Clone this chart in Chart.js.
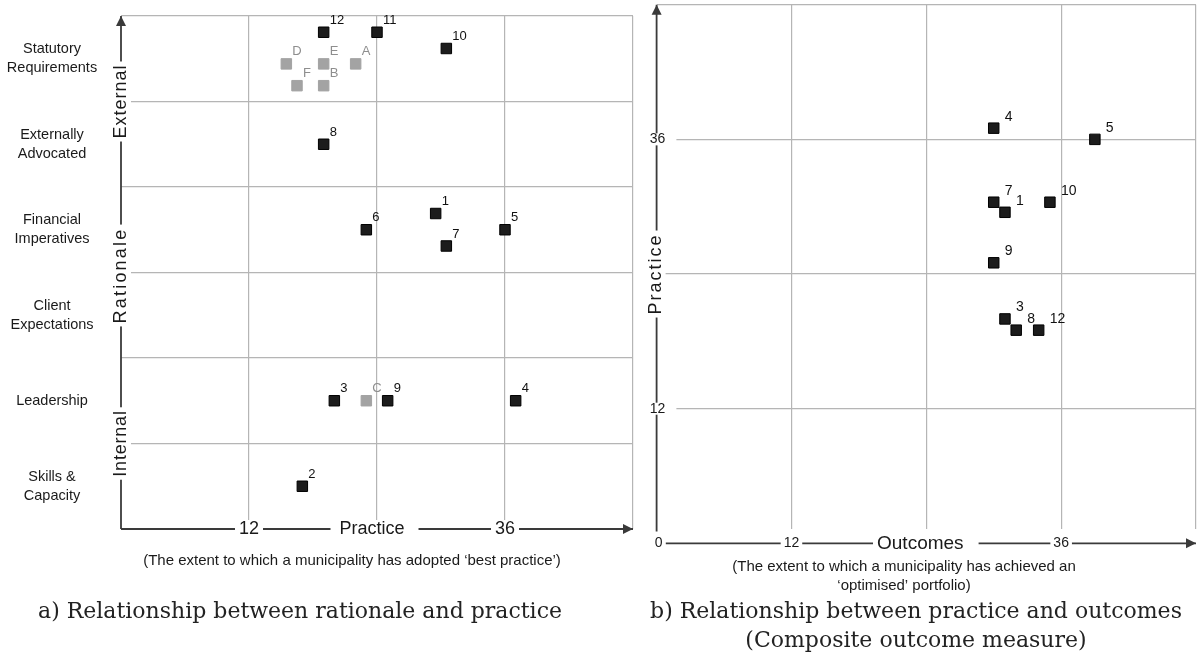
<!DOCTYPE html>
<html>
<head>
<meta charset="utf-8">
<title>Rationale, practice and outcomes</title>
<script src="https://cdn.jsdelivr.net/npm/chart.js@4.4.0/dist/chart.umd.min.js"></script>
<style>
    html, body { margin: 0; padding: 0; background: #fff; }
    #wrap { position: relative; width: 1200px; height: 656px; overflow: hidden; }
    #leftChart { position: absolute; left: 0; top: 0; }
    #rightChart { position: absolute; left: 645px; top: 0; }
</style>
</head>
<body>
<div id="wrap">
    <canvas id="leftChart" width="645" height="656"></canvas>
    <canvas id="rightChart" width="555" height="656"></canvas>
</div>
<script>
// ---- data: a) rationale vs practice ----
// rationale bands, from the bottom band (0-1) to the top band (5-6)
const rationaleCategories = [
    ['Skills &', 'Capacity'],
    ['Leadership'],
    ['Client', 'Expectations'],
    ['Financial', 'Imperatives'],
    ['Externally', 'Advocated'],
    ['Statutory', 'Requirements'],
];
const municipalityIds = ['1', '2', '3', '4', '5', '6', '7', '8', '9', '10', '11', '12'];
const municipalityPractice = [29.5, 17, 20, 37, 36, 23, 30.5, 19, 25, 30.5, 24, 19];
const municipalityRationale = [3.69, 0.5, 1.5, 1.5, 3.5, 3.5, 3.31, 4.5, 1.5, 5.62, 5.81, 5.81];
const caseIds = ['A', 'B', 'C', 'D', 'E', 'F'];
const casePractice = [22, 19, 23, 15.5, 19, 16.5];
const caseRationale = [5.44, 5.185, 1.5, 5.44, 5.44, 5.185];
const practiceTicks = [12, 36];

// ---- data: b) practice vs outcomes ----
const outcomeIds = ['1', '3', '4', '5', '7', '8', '9', '10', '12'];
const outcomeValues = [31, 31, 30, 39, 30, 32, 30, 35, 34];
const outcomePractice = [29.5, 20, 37, 36, 30.4, 19, 25, 30.4, 19];
const outcomeTicks = [0, 12, 36];
const outcomePracticeTicks = [12, 36];

const SANS = '"Liberation Sans", Arial, sans-serif';
const SERIF = '"DejaVu Serif", serif';
const AXIS_COLOR = '#3a3a3a';
const GRID_COLOR = '#b5b5b5';

// text with a white box behind it, so it breaks the axis line
function boxedText(ctx, text, x, y, size, padL, padR, padV, spacing) {
    ctx.font = size + 'px ' + SANS;
    ctx.letterSpacing = (spacing || 0) + 'px';
    const w = ctx.measureText(text).width;
    ctx.fillStyle = '#fff';
    ctx.fillRect(x - w / 2 - padL, y - size / 2 - padV, w + padL + padR, size + padV * 2);
    ctx.fillStyle = '#1a1a1a';
    ctx.textAlign = 'center';
    ctx.textBaseline = 'middle';
    ctx.fillText(text, x, y);
    ctx.letterSpacing = '0px';
}

function rotatedText(ctx, text, x, y, size, spacing) {
    ctx.save();
    ctx.translate(x, y);
    ctx.rotate(-Math.PI / 2);
    boxedText(ctx, text, 0, 0, size, 3, 3, 1, spacing);
    ctx.restore();
}

function arrowLine(ctx, x1, y1, x2, y2) {
    ctx.strokeStyle = AXIS_COLOR;
    ctx.fillStyle = AXIS_COLOR;
    ctx.lineWidth = 1.8;
    ctx.beginPath();
    ctx.moveTo(x1, y1);
    ctx.lineTo(x2, y2);
    ctx.stroke();
    // arrow head at (x2, y2)
    const a = Math.atan2(y2 - y1, x2 - x1);
    ctx.save();
    ctx.translate(x2, y2);
    ctx.rotate(a);
    ctx.beginPath();
    ctx.moveTo(0, 0);
    ctx.lineTo(-10, -5);
    ctx.lineTo(-10, 5);
    ctx.closePath();
    ctx.fill();
    ctx.restore();
}

function centerLines(ctx, lines, x, y, lineHeight, font, color) {
    ctx.font = font;
    ctx.fillStyle = color;
    ctx.textAlign = 'center';
    ctx.textBaseline = 'middle';
    lines.forEach((line, i) => ctx.fillText(line, x, y + i * lineHeight));
}

// point labels next to each marker
const pointLabels = {
    id: 'pointLabels',
    afterDatasetsDraw(chart, args, opts) {
        const ctx = chart.ctx;
        ctx.save();
        chart.data.datasets.forEach((ds, i) => {
            const meta = chart.getDatasetMeta(i);
            ctx.font = opts.size + 'px ' + SANS;
            ctx.fillStyle = ds.labelColor;
            ctx.textAlign = 'left';
            ctx.textBaseline = 'middle';
            meta.data.forEach((pt, j) => {
                ctx.fillText(ds.labels[j], pt.x + opts.dx, pt.y + opts.dy);
            });
        });
        ctx.restore();
    }
};

// axes, tick labels and captions for chart a)
const leftDecor = {
    id: 'leftDecor',
    afterDraw(chart) {
        const ctx = chart.ctx;
        const xs = chart.scales.x;
        const ys = chart.scales.y;
        const x0 = xs.getPixelForValue(0);
        const y0 = ys.getPixelForValue(0);
        ctx.save();

        // rationale axis
        arrowLine(ctx, x0, y0, x0, ys.getPixelForValue(6));
        rotatedText(ctx, 'External', x0, ys.getPixelForValue(5), 18, 1);
        rotatedText(ctx, 'Rationale', x0, ys.getPixelForValue(3) + 3, 18, 2.2);
        rotatedText(ctx, 'Internal', x0, ys.getPixelForValue(1), 18, 0.8);

        // rationale categories
        rationaleCategories.forEach((lines, i) => {
            const yc = ys.getPixelForValue(i + 0.5) - (lines.length - 1) * 9.5;
            centerLines(ctx, lines, 52, yc, 19, '14.5px ' + SANS, '#1a1a1a');
        });

        // practice axis
        arrowLine(ctx, x0, y0, xs.getPixelForValue(48), y0);
        practiceTicks.forEach(v => boxedText(ctx, String(v), xs.getPixelForValue(v), y0, 18, 4, 4, 0));
        boxedText(ctx, 'Practice', xs.getPixelForValue(24) - 5, y0, 18, 9, 14, 0);

        centerLines(ctx, ['(The extent to which a municipality has adopted \u2018best practice\u2019)'],
            352, 561, 19, '15px ' + SANS, '#1a1a1a');
        centerLines(ctx, ['a) Relationship between rationale and practice'],
            300, 612, 29, '22px ' + SERIF, '#222');
        ctx.restore();
    }
};

// axes, tick labels and captions for chart b)
const rightDecor = {
    id: 'rightDecor',
    afterDraw(chart) {
        const ctx = chart.ctx;
        const xs = chart.scales.x;
        const ys = chart.scales.y;
        const x0 = xs.getPixelForValue(0);
        const y0 = ys.getPixelForValue(0);
        ctx.save();

        // practice axis
        arrowLine(ctx, x0, chart.chartArea.bottom + 2.5, x0, ys.getPixelForValue(48));
        outcomePracticeTicks.forEach(v => boxedText(ctx, String(v), x0 + 1, ys.getPixelForValue(v), 14, 7, 11, -1));
        rotatedText(ctx, 'Practice', x0 - 1, ys.getPixelForValue(24), 18, 2);

        // outcomes axis
        arrowLine(ctx, x0 + 9, y0, xs.getPixelForValue(48), y0);
        outcomeTicks.forEach(v => boxedText(ctx, String(v), xs.getPixelForValue(v) + (v === 0 ? 2 : 0), y0, 14, 3, 3, 0));
        boxedText(ctx, 'Outcomes', xs.getPixelForValue(24) - 6, y0, 19, 4, 15, 0);

        centerLines(ctx, ['(The extent to which a municipality has achieved an', '\u2018optimised\u2019 portfolio)'],
            259, 567, 19, '15px ' + SANS, '#1a1a1a');
        centerLines(ctx, ['b) Relationship between practice and outcomes', '(Composite outcome measure)'],
            271, 612, 29, '22px ' + SERIF, '#222');
        ctx.restore();
    }
};

function gridColor(ctx) {
    return ctx.tick && ctx.tick.value === 0 ? 'rgba(0,0,0,0)' : GRID_COLOR;
}

function baseScale(min, max, extra) {
    return Object.assign({
        type: 'linear',
        min: min,
        max: max,
        ticks: { display: false, stepSize: 12 },
        grid: { drawTicks: false, color: gridColor, lineWidth: 1.2 },
        border: { display: false },
    }, extra);
}

// a) Relationship between rationale and practice
new Chart(document.getElementById('leftChart'), {
    type: 'scatter',
    data: {
        datasets: [
            {
                label: 'Municipalities',
                data: municipalityIds.map((id, i) => ({ x: municipalityPractice[i], y: municipalityRationale[i] })),
                labels: municipalityIds,
                labelColor: '#111',
                backgroundColor: '#1c1c1c',
                borderColor: '#000',
            },
            {
                label: 'Cases',
                data: caseIds.map((id, i) => ({ x: casePractice[i], y: caseRationale[i] })),
                labels: caseIds,
                labelColor: '#8e8e8e',
                backgroundColor: '#a3a3a3',
                borderColor: '#a3a3a3',
            },
        ],
    },
    options: {
        responsive: false,
        animation: false,
        layout: { autoPadding: false, padding: { left: 121, top: 16, right: 12, bottom: 127 } },
        elements: { point: { pointStyle: 'rect', radius: 7.4, borderWidth: 1, hoverRadius: 7.4 } },
        plugins: {
            legend: { display: false },
            tooltip: { enabled: false },
            pointLabels: { size: 13, dx: 6, dy: -12 },
        },
        scales: {
            x: baseScale(0, 48, { afterFit: s => { s.height = 0; } }),
            y: baseScale(0, 6, {
                ticks: { display: false, stepSize: 1 },
                afterFit: s => { s.width = 0; },
            }),
        },
    },
    plugins: [pointLabels, leftDecor],
});

// b) Relationship between practice and outcomes
new Chart(document.getElementById('rightChart'), {
    type: 'scatter',
    data: {
        datasets: [
            {
                label: 'Municipalities',
                data: outcomeIds.map((id, i) => ({ x: outcomeValues[i], y: outcomePractice[i] })),
                labels: outcomeIds,
                labelColor: '#111',
                backgroundColor: '#1c1c1c',
                borderColor: '#000',
            },
        ],
    },
    options: {
        responsive: false,
        animation: false,
        layout: { autoPadding: false, padding: { left: 11.6, top: 4.7, right: 4, bottom: 127 } },
        elements: { point: { pointStyle: 'rect', radius: 7.4, borderWidth: 1, hoverRadius: 7.4 } },
        plugins: {
            legend: { display: false },
            tooltip: { enabled: false },
            pointLabels: { size: 14, dx: 11, dy: -11.5 },
        },
        scales: {
            x: baseScale(0, 48, { afterFit: s => { s.height = 0; } }),
            // the vertical grid stops a little above the outcomes axis
            y: baseScale(1.28, 48, {
                afterBuildTicks: s => { s.ticks = [12, 24, 36, 48].map(v => ({ value: v })); },
                afterFit: s => { s.width = 0; },
            }),
        },
    },
    plugins: [pointLabels, rightDecor],
});
</script>
</body>
</html>
